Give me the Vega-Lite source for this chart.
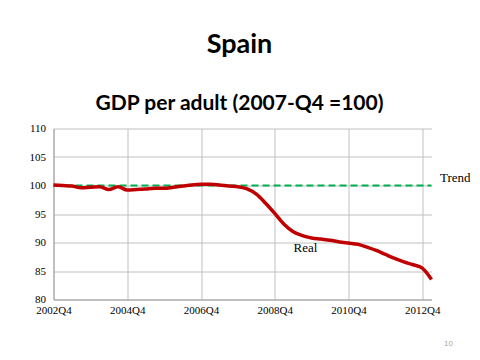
{
  "$schema": "https://vega.github.io/schema/vega-lite/v6.json",
  "autosize": {"type": "none"},
  "width": 378,
  "height": 171,
  "padding": {"left": 53.5, "top": 128.5, "right": 48.5, "bottom": 60.5},
  "background": "white",
  "title": {
    "text": "Spain",
    "subtitle": "GDP per adult (2007-Q4 =100)",
    "font": "Lato",
    "fontSize": 27,
    "fontWeight": "bold",
    "color": "#000000",
    "subtitleFont": "Lato",
    "subtitleFontSize": 21,
    "subtitleFontWeight": "bold",
    "subtitleColor": "#000000",
    "subtitlePadding": 34,
    "anchor": "middle",
    "offset": 8,
    "dx": -3
  },
  "config": {
    "view": {"stroke": null},
    "axis": {
      "labelFont": "Liberation Serif",
      "labelFontSize": 11,
      "labelColor": "#000000",
      "labelOverlap": false,
      "grid": true,
      "gridColor": "#c0c0c0",
      "gridWidth": 1,
      "domainColor": "#a0a0a0",
      "ticks": false
    }
  },
  "data": {
    "values": [
      {"quarter": "2002Q4", "Real": 100.1, "Trend": 100},
      {"quarter": "2003Q1", "Real": 100.0, "Trend": 100},
      {"quarter": "2003Q2", "Real": 99.9, "Trend": 100},
      {"quarter": "2003Q3", "Real": 99.6, "Trend": 100},
      {"quarter": "2003Q4", "Real": 99.7, "Trend": 100},
      {"quarter": "2004Q1", "Real": 99.8, "Trend": 100},
      {"quarter": "2004Q2", "Real": 99.3, "Trend": 100},
      {"quarter": "2004Q3", "Real": 99.8, "Trend": 100},
      {"quarter": "2004Q4", "Real": 99.2, "Trend": 100},
      {"quarter": "2005Q1", "Real": 99.3, "Trend": 100},
      {"quarter": "2005Q2", "Real": 99.4, "Trend": 100},
      {"quarter": "2005Q3", "Real": 99.5, "Trend": 100},
      {"quarter": "2005Q4", "Real": 99.5, "Trend": 100},
      {"quarter": "2006Q1", "Real": 99.7, "Trend": 100},
      {"quarter": "2006Q2", "Real": 99.9, "Trend": 100},
      {"quarter": "2006Q3", "Real": 100.1, "Trend": 100},
      {"quarter": "2006Q4", "Real": 100.2, "Trend": 100},
      {"quarter": "2007Q1", "Real": 100.2, "Trend": 100},
      {"quarter": "2007Q2", "Real": 100.1, "Trend": 100},
      {"quarter": "2007Q3", "Real": 99.9, "Trend": 100},
      {"quarter": "2007Q4", "Real": 99.8, "Trend": 100},
      {"quarter": "2008Q1", "Real": 99.4, "Trend": 100},
      {"quarter": "2008Q2", "Real": 98.5, "Trend": 100},
      {"quarter": "2008Q3", "Real": 96.9, "Trend": 100},
      {"quarter": "2008Q4", "Real": 95.1, "Trend": 100},
      {"quarter": "2009Q1", "Real": 93.2, "Trend": 100},
      {"quarter": "2009Q2", "Real": 91.9, "Trend": 100},
      {"quarter": "2009Q3", "Real": 91.2, "Trend": 100},
      {"quarter": "2009Q4", "Real": 90.8, "Trend": 100},
      {"quarter": "2010Q1", "Real": 90.6, "Trend": 100},
      {"quarter": "2010Q2", "Real": 90.4, "Trend": 100},
      {"quarter": "2010Q3", "Real": 90.1, "Trend": 100},
      {"quarter": "2010Q4", "Real": 89.9, "Trend": 100},
      {"quarter": "2011Q1", "Real": 89.7, "Trend": 100},
      {"quarter": "2011Q2", "Real": 89.2, "Trend": 100},
      {"quarter": "2011Q3", "Real": 88.6, "Trend": 100},
      {"quarter": "2011Q4", "Real": 87.9, "Trend": 100},
      {"quarter": "2012Q1", "Real": 87.2, "Trend": 100},
      {"quarter": "2012Q2", "Real": 86.6, "Trend": 100},
      {"quarter": "2012Q3", "Real": 86.1, "Trend": 100},
      {"quarter": "2012Q4", "Real": 85.5, "Trend": 100},
      {"quarter": "2013Q1", "Real": 83.5, "Trend": 100}
    ]
  },
  "encoding": {
    "x": {
      "field": "quarter",
      "type": "ordinal",
      "scale": {"type": "point", "padding": 0},
      "axis": {
        "values": ["2002Q4", "2004Q4", "2006Q4", "2008Q4", "2010Q4", "2012Q4"],
        "labelAngle": 0,
        "labelPadding": 5,
        "title": "10",
        "titleFont": "Liberation Sans",
        "titleFontSize": 8,
        "titleFontWeight": "normal",
        "titleColor": "#a6a6a6",
        "titleAnchor": "start",
        "titleAlign": "left",
        "titleBaseline": "middle",
        "titleX": 390,
        "titleY": 43.5
      }
    }
  },
  "layer": [
    {
      "mark": {"type": "line", "color": "#00b050", "strokeWidth": 2, "strokeDash": [7, 4]},
      "encoding": {
        "y": {
          "field": "Trend",
          "type": "quantitative",
          "scale": {"domain": [80, 110], "nice": false, "zero": false},
          "axis": {"values": [80, 85, 90, 95, 100, 105, 110], "labelPadding": 8, "title": null}
        }
      }
    },
    {
      "mark": {"type": "line", "color": "#c00000", "strokeWidth": 3.5, "interpolate": "monotone"},
      "encoding": {
        "y": {
          "field": "Real",
          "type": "quantitative",
          "scale": {"domain": [80, 110], "nice": false, "zero": false},
          "axis": {"values": [80, 85, 90, 95, 100, 105, 110], "labelPadding": 8, "title": null}
        }
      }
    },
    {
      "transform": [{"filter": "datum.quarter == '2013Q1'"}],
      "mark": {"type": "text", "text": "Trend", "font": "Liberation Serif", "fontSize": 13, "align": "left", "baseline": "middle", "dx": 8.5, "dy": -8, "color": "#000000"},
      "encoding": {
        "y": {
          "field": "Trend",
          "type": "quantitative",
          "scale": {"domain": [80, 110], "nice": false, "zero": false},
          "axis": {"values": [80, 85, 90, 95, 100, 105, 110], "labelPadding": 8, "title": null}
        }
      }
    },
    {
      "transform": [{"filter": "datum.quarter == '2009Q3'"}],
      "mark": {"type": "text", "text": "Real", "font": "Liberation Serif", "fontSize": 13, "align": "center", "baseline": "middle", "dx": 3, "dy": 12.5, "color": "#000000"},
      "encoding": {
        "y": {
          "field": "Real",
          "type": "quantitative",
          "scale": {"domain": [80, 110], "nice": false, "zero": false},
          "axis": {"values": [80, 85, 90, 95, 100, 105, 110], "labelPadding": 8, "title": null}
        }
      }
    }
  ]
}
